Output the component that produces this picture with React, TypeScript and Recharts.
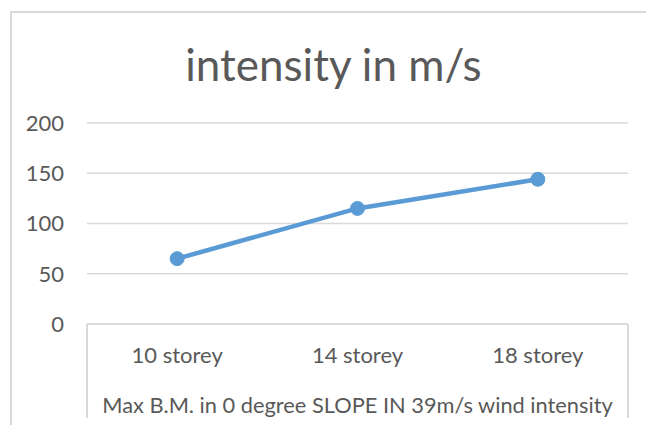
import React from 'react';
import { LineChart, Line, XAxis, YAxis, CartesianGrid } from 'recharts';

const categories = ['10 storey', '14 storey', '18 storey'];
const seriesValues = [65, 115, 144];
const yTicks = [0, 50, 100, 150, 200];
const titleText = 'intensity in m/s';
const axisTitleText = 'Max B.M. in 0 degree SLOPE IN 39m/s wind intensity';

const data = categories.map((name, i) => ({ name, value: seriesValues[i] }));

const W = 646;
const H = 425;
const MARGIN = { top: 123, right: 18, bottom: 0, left: 0 };
const Y_AXIS_W = 87;
const X_AXIS_H = 101;
const PLOT_LEFT = MARGIN.left + Y_AXIS_W;
const PLOT_RIGHT = W - MARGIN.right;
const PLOT_BOTTOM = H - MARGIN.bottom - X_AXIS_H;
const FONT = 'Lato, "Open Sans", sans-serif';
const TEXT = '#595959';
const GRID = '#d9d9d9';

export default function App() {
  return (
    <div style={{ position: 'absolute', left: 0, top: 0, width: W, height: H, background: '#fff', overflow: 'hidden' }}>
      <div style={{ position: 'absolute', left: 10, top: 11, width: 700, height: 500, border: `2px solid ${GRID}`, boxSizing: 'border-box' }} />
      <div style={{ position: 'absolute', left: 0, width: 667, top: 38, textAlign: 'center', fontFamily: FONT, fontSize: 44, color: TEXT, lineHeight: '52px' }}>
        {titleText}
      </div>
      <div style={{ position: 'absolute', left: 0, top: 0 }}>
        <LineChart width={W} height={H} data={data} margin={MARGIN}>
          <CartesianGrid vertical={false} stroke={GRID} strokeWidth={1.5} />
          <XAxis
            dataKey="name"
            scale="band"
            height={X_AXIS_H}
            axisLine={{ stroke: GRID, strokeWidth: 1.5 }}
            tickLine={false}
            tickMargin={17}
            tick={{ fill: TEXT, fontSize: 22, fontFamily: FONT }}
            label={{ value: axisTitleText, position: 'insideBottom', offset: 12, fill: TEXT, fontSize: 21.8, fontFamily: FONT }}
          />
          <YAxis
            width={Y_AXIS_W}
            domain={[0, 200]}
            ticks={yTicks}
            axisLine={false}
            tickLine={false}
            tickMargin={17}
            tick={{ fill: TEXT, fontSize: 22, fontFamily: FONT }}
          />
          <Line
            type="linear"
            dataKey="value"
            stroke="#5b9bd5"
            strokeWidth={4.5}
            dot={{ r: 7, fill: '#5b9bd5', stroke: '#5b9bd5', strokeWidth: 1 }}
            isAnimationActive={false}
          />
        </LineChart>
      </div>
      <div style={{ position: 'absolute', left: PLOT_LEFT - 0.75, top: PLOT_BOTTOM, width: 1.5, height: 94, background: GRID }} />
      <div style={{ position: 'absolute', left: PLOT_RIGHT - 0.75, top: PLOT_BOTTOM, width: 1.5, height: 94, background: GRID }} />
    </div>
  );
}
